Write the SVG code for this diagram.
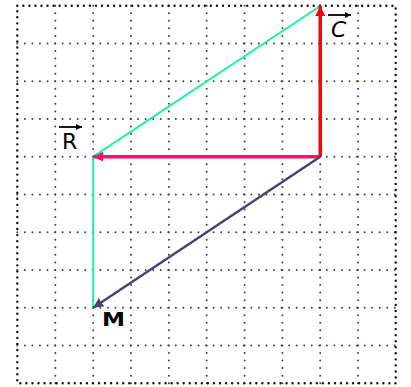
<svg xmlns="http://www.w3.org/2000/svg" width="411" height="387" viewBox="0 0 411 387">
<style>
.g{stroke:#45452c;stroke-width:2;stroke-dasharray:0 7.55;stroke-linecap:round;fill:none}
.b{stroke:#111;stroke-width:2.4;stroke-dasharray:0 6.05;stroke-linecap:round;fill:none}
.lbl{font-family:"DejaVu Sans",sans-serif;fill:#000}
.ov{stroke:#000;stroke-width:1.8}
</style>
<defs>
<marker id="hRed" markerUnits="userSpaceOnUse" markerWidth="12" markerHeight="12" refX="10" refY="5" orient="auto"><path d="M0,0 L10,5 L0,10 Z" fill="#ff0000"/></marker>
<marker id="hPink" markerUnits="userSpaceOnUse" markerWidth="12" markerHeight="12" refX="10" refY="5" orient="auto"><path d="M0,0 L10,5 L0,10 Z" fill="#ff0f68"/></marker>
<marker id="hPur" markerUnits="userSpaceOnUse" markerWidth="12" markerHeight="12" refX="10" refY="5" orient="auto"><path d="M0,0 L10,5 L0,10 Z" fill="#4d4172"/></marker>
<marker id="hBlk" markerUnits="userSpaceOnUse" markerWidth="8" markerHeight="8" refX="6" refY="3" orient="auto"><path d="M0,0 L6,3 L0,6 Z" fill="#000"/></marker>
</defs>
<rect width="411" height="387" fill="#fff"/>
<g id="grid">
<path class="g" d="M55.3,5.7V383.3M93.2,5.7V383.3M131,5.7V383.3M168.9,5.7V383.3M206.7,5.7V383.3M244.6,5.7V383.3M282.4,5.7V383.3M320.2,5.7V383.3M358,5.7V383.3"/>
<path class="g" d="M17.3,43.4H395.7M17.3,81.2H395.7M17.3,118.9H395.7M17.3,156.7H395.7M17.3,194.5H395.7M17.3,232.2H395.7M17.3,270H395.7M17.3,307.8H395.7M17.3,345.5H395.7"/>
<rect class="b" x="17.3" y="5.7" width="378.4" height="377.6"/>
</g>
<g id="connectors">
<line x1="320.2" y1="6" x2="93.2" y2="156.7" stroke="#1ff0a0" stroke-width="2"/>
<line x1="93.2" y1="156.7" x2="93.2" y2="308" stroke="#1ff0a0" stroke-width="2"/>
<line x1="320.2" y1="156.7" x2="320.2" y2="6" stroke="#ff0000" stroke-width="3.5" marker-end="url(#hRed)"/>
<line x1="320.2" y1="156.7" x2="93.2" y2="156.7" stroke="#ff0f68" stroke-width="3.5" marker-end="url(#hPink)"/>
<line x1="320.2" y1="156.7" x2="93.2" y2="307.8" stroke="#4d4172" stroke-width="2.5" marker-end="url(#hPur)"/>
</g>
<g id="label-C">
<line class="ov" x1="328" y1="15" x2="351" y2="15" marker-end="url(#hBlk)"/>
<text class="lbl" x="331" y="37" font-size="22" font-style="italic">C</text>
</g>
<g id="label-R">
<line class="ov" x1="59" y1="127" x2="82" y2="127" marker-end="url(#hBlk)"/>
<text class="lbl" x="62" y="149" font-size="22">R</text>
</g>
<g id="label-M">
<text class="lbl" x="102" y="326" font-size="19" font-weight="bold" textLength="23" lengthAdjust="spacingAndGlyphs">M</text>
</g>
</svg>
